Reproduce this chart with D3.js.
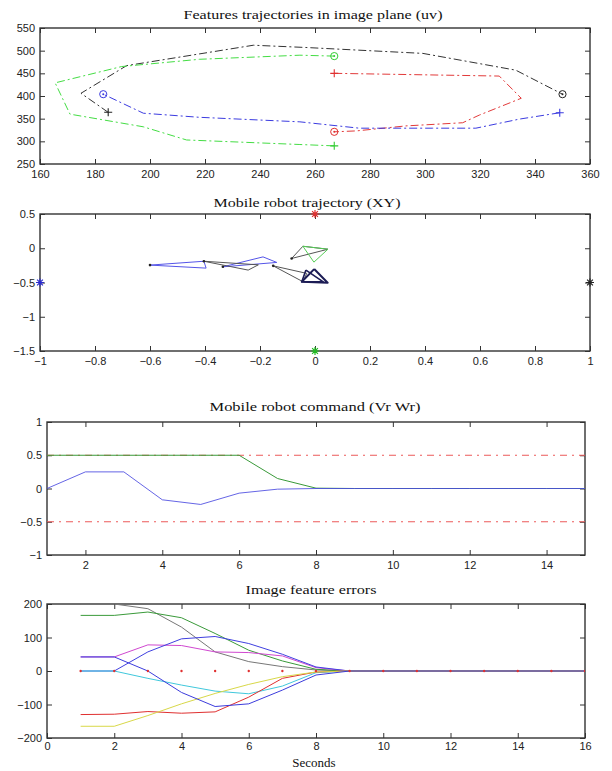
<!DOCTYPE html>
<html><head><meta charset="utf-8">
<script src="https://cdn.jsdelivr.net/npm/d3@7"></script>
<style>
html,body{margin:0;padding:0;background:#fff;}
svg{display:block;}
.tick text{font-family:"Liberation Sans",Arial,sans-serif;font-size:11px;fill:#222;}
.ttl{font-family:"Liberation Serif","DejaVu Serif",serif;font-size:13px;fill:#111;}
</style>
</head><body>
<svg id="c" width="612" height="771"></svg>
<script>
// ---------- Panel 1: Features trajectories in image plane (uv) ----------
const uvBlack = [[184.8,364],[174.9,406],[191.5,467],[237.6,512],[256.7,507],[299.2,494],[333,457],[350,404]];
const uvGreen = [[267,290],[254.5,293],[213.3,303],[197.6,332],[170.9,360],[165.5,429],[189.7,465],[218,481],[254.5,490],[267,488]];
const uvRed   = [[267,450],[327,444],[335,395],[319.8,358],[313.7,341],[293,334],[275,323],[267,321]];
const uvBlue  = [[349,363],[334.3,349],[318.5,329],[302.8,329],[276.1,329],[254.5,343],[218,353],[197.6,362],[183,404]];
const uvPlus   = [{p:[184.8,364],c:"#222"},{p:[267,290],c:"#33cc33"},{p:[267,450],c:"#e03030"},{p:[349,363],c:"#3b3be0"}];
const uvCircle = [{p:[350,404],c:"#222"},{p:[267,488],c:"#33cc33"},{p:[267,321],c:"#e03030"},{p:[183,404],c:"#3b3be0"}];
const uvXTicks = [160,180,200,220,240,260,280,300,320,340,360];
const uvYTicks = [250,300,350,400,450,500,550];

// ---------- Panel 2: Mobile robot trajectory (XY) ----------
const xyBlue1  = [[-0.6,-0.246],[-0.404,-0.19],[-0.396,-0.29],[-0.6,-0.246]];
const xyBlue2  = [[-0.335,-0.271],[-0.189,-0.126],[-0.139,-0.207],[-0.335,-0.271]];
const xyBlack1 = [[-0.404,-0.19],[-0.206,-0.242],[-0.243,-0.319],[-0.404,-0.19]];
const xyBlack2 = [[-0.152,-0.257],[-0.03,-0.367],[-0.044,-0.488],[-0.152,-0.257]];
const xyBlack3 = [[-0.085,-0.149],[-0.044,0.029],[0.047,-0.014],[-0.085,-0.149]];
const xyGreen  = [[-0.044,0.029],[0.047,-0.014],[-0.004,-0.203],[-0.044,0.029]];
const xyNavy1  = [[-0.003,-0.304],[-0.048,-0.49],[0.046,-0.503],[-0.003,-0.304]];
const xyNavy2  = [[-0.033,-0.319],[-0.048,-0.49],[0.03,-0.49],[-0.033,-0.319]];
const xyStars  = [{p:[0,0.5],c:"#e03030"},{p:[0,-1.5],c:"#22bb22"},{p:[-1,-0.5],c:"#2a2ad0"},{p:[1,-0.5],c:"#222"}];
const xyXTicks = [-1,-0.8,-0.6,-0.4,-0.2,0,0.2,0.4,0.6,0.8,1];
const xyYTicks = [-1.5,-1,-0.5,0,0.5];

// ---------- Panel 3: Mobile robot command (Vr Wr) ----------
const cmdTime = [1,2,3,4,5,6,7,8,9,10,11,12,13,14,15];
const cmdVr   = [0.5,0.5,0.5,0.5,0.5,0.5,0.15,0.005,0,0,0,0,0,0,0];
const cmdWr   = [0,0.25,0.25,-0.17,-0.24,-0.07,-0.01,0,0,0,0,0,0,0,0];
const cmdLimits = [0.5,-0.5];
const cmdXTicks = [2,4,6,8,10,12,14];
const cmdYTicks = [-1,-0.5,0,0.5,1];

// ---------- Panel 4: Image feature errors ----------
const errTime    = [1,2,3,4,5,6,7,8,9,10,11,12,13,14,15,16];
const errGray    = [200,200,186,131,57,28,13,3,0,0,0,0,0,0,0,0];
const errGreen   = [166,166,176,159,112,62,30,5,0,0,0,0,0,0,0,0];
const errMagenta = [42,42,78,76,57,55,45,10,0,0,0,0,0,0,0,0];
const errBlueA   = [0,0,57,96,103,82,50,12,0,0,0,0,0,0,0,0];
const errBlueB   = [42,42,0,-64,-106,-98,-57,-12,0,0,0,0,0,0,0,0];
const errCyan    = [0,0,-22,-42,-60,-68,-45,-5,0,0,0,0,0,0,0,0];
const errRed     = [-130,-129,-121,-126,-122,-78,-22,-3,0,0,0,0,0,0,0,0];
const errYellow  = [-165,-165,-133,-98,-67,-40,-17,-3,0,0,0,0,0,0,0,0];
const errZeroRef = [0,0,0,0,0,0,0,0,0,0,0,0,0,0,0,0];
const errXTicks = [0,2,4,6,8,10,12,14,16];
const errYTicks = [-200,-100,0,100,200];

const svg = d3.select("#c");
const fmt = v => (v<0 ? "\u2212" : "") + String(Math.abs(v));

function panel(o){
  const x = d3.scaleLinear().domain(o.xd).range([o.l,o.r]);
  const y = d3.scaleLinear().domain(o.yd).range([o.b,o.t]);
  const g = svg.append("g");
  const clipId = "clip"+Math.random().toString(36).slice(2);
  svg.append("clipPath").attr("id",clipId).append("rect")
    .attr("x",o.l).attr("y",o.t).attr("width",o.r-o.l).attr("height",o.b-o.t);
  const ax = (gen, tr) => g.append("g").attr("transform",tr).call(gen)
      .call(s=>s.select(".domain").remove())
      .call(s=>s.selectAll(".tick line").attr("stroke","#333"));
  ax(d3.axisBottom(x).tickValues(o.xt).tickSize(-5).tickPadding(o.xp||6).tickFormat(fmt), `translate(0,${o.b})`);
  ax(d3.axisTop(x).tickValues(o.xt).tickSize(-5).tickFormat(""), `translate(0,${o.t})`);
  ax(d3.axisLeft(y).tickValues(o.yt).tickSize(-5).tickPadding(5).tickFormat(fmt), `translate(${o.l},0)`);
  ax(d3.axisRight(y).tickValues(o.yt).tickSize(-5).tickFormat(""), `translate(${o.r},0)`);
  g.append("rect").attr("x",o.l).attr("y",o.t).attr("width",o.r-o.l).attr("height",o.b-o.t)
    .attr("fill","none").attr("stroke","#333").attr("stroke-width",1.4);
  svg.append("text").attr("class","ttl").attr("x",o.tx).attr("y",o.ty)
    .attr("text-anchor","middle").attr("textLength",o.tw).attr("lengthAdjust","spacingAndGlyphs").text(o.title);
  const plot = svg.append("g").attr("clip-path",`url(#${clipId})`);
  return {x,y,plot,g};
}

// Panel 1
const p1 = panel({l:40,r:590,t:28,b:164,xd:[160,360],yd:[250,550],xt:uvXTicks,yt:uvYTicks,
  title:"Features trajectories in image plane (uv)",tx:313,ty:19,tw:259});
const line1 = d3.line().x(d=>p1.x(d[0])).y(d=>p1.y(d[1]));
[[uvBlack,"#333"],[uvGreen,"#44dd44"],[uvRed,"#e23a3a"],[uvBlue,"#3b3be0"]].forEach(([d,c])=>{
  p1.plot.append("path").attr("d",line1(d)).attr("fill","none").attr("stroke",c)
    .attr("stroke-width",1).attr("stroke-dasharray","8,3,2,3");
});
uvPlus.forEach(m=>{
  const cx=p1.x(m.p[0]), cy=p1.y(m.p[1]);
  svg.append("path").attr("d",`M${cx-4},${cy}H${cx+4}M${cx},${cy-4}V${cy+4}`).attr("stroke",m.c).attr("stroke-width",1.1);
});
uvCircle.forEach(m=>{
  const cx=p1.x(m.p[0]), cy=p1.y(m.p[1]);
  svg.append("circle").attr("cx",cx).attr("cy",cy).attr("r",3.6).attr("fill","none").attr("stroke",m.c).attr("stroke-width",1);
  svg.append("circle").attr("cx",cx).attr("cy",cy).attr("r",1).attr("fill",m.c);
});

// Panel 2
const p2 = panel({l:40,r:590,t:214,b:351,xd:[-1,1],yd:[-1.5,0.5],xt:xyXTicks,yt:xyYTicks,
  title:"Mobile robot trajectory (XY)",tx:307,ty:207,tw:187});
const line2 = d3.line().x(d=>p2.x(d[0])).y(d=>p2.y(d[1]));
[[xyBlue1,"#5555e8",1],[xyBlue2,"#5555e8",1],[xyBlack1,"#555",1],[xyBlack2,"#555",1],
 [xyBlack3,"#555",1],[xyGreen,"#55cc55",1],[xyNavy1,"#1c1c55",2],[xyNavy2,"#1c1c55",1.6]].forEach(([d,c,w])=>{
  p2.plot.append("path").attr("d",line2(d)).attr("fill","none").attr("stroke",c).attr("stroke-width",w).attr("stroke-linejoin","round");
});
[xyBlue1[0],xyBlue2[0],xyBlack1[0],xyBlack2[0],xyBlack3[0]].forEach(p=>{
  p2.plot.append("circle").attr("cx",p2.x(p[0])).attr("cy",p2.y(p[1])).attr("r",1.3).attr("fill","#222");
});
xyStars.forEach(m=>{
  const cx=p2.x(m.p[0]), cy=p2.y(m.p[1]), s=4, d=2.9;
  svg.append("path").attr("d",`M${cx-s},${cy}H${cx+s}M${cx},${cy-s}V${cy+s}M${cx-d},${cy-d}L${cx+d},${cy+d}M${cx-d},${cy+d}L${cx+d},${cy-d}`)
    .attr("stroke",m.c).attr("stroke-width",1.2);
});

// Panel 3
const p3 = panel({l:47,r:585,t:422,b:555,xd:[1,15],yd:[-1,1],xt:cmdXTicks,yt:cmdYTicks,
  title:"Mobile robot command (Vr Wr)",tx:315,ty:411,tw:211});
cmdLimits.forEach(v=>{
  p3.plot.append("line").attr("x1",p3.x(1)).attr("x2",p3.x(15)).attr("y1",p3.y(v)).attr("y2",p3.y(v))
    .attr("stroke","#ec5a5a").attr("stroke-width",1).attr("stroke-dasharray","7,5,2,5");
});
const line3 = (vals)=>d3.line().x((d,i)=>p3.x(cmdTime[i])).y(d=>p3.y(d))(vals);
p3.plot.append("path").attr("d",line3(cmdVr)).attr("fill","none").attr("stroke","#3a9a3a").attr("stroke-width",1);
p3.plot.append("path").attr("d",line3(cmdWr)).attr("fill","none").attr("stroke","#4a4ae0").attr("stroke-width",1).attr("stroke-opacity",0.85);

// Panel 4
const p4 = panel({l:47,r:585,t:604,b:738,xd:[0,16],yd:[-200,200],xt:errXTicks,yt:errYTicks,xp:4,
  title:"Image feature errors",tx:311,ty:594,tw:131});
const line4 = (vals)=>d3.line().x((d,i)=>p4.x(errTime[i])).y(d=>p4.y(d))(vals);
[[errGray,"#777"],[errGreen,"#3a9a3a"],[errMagenta,"#d048d0"],[errBlueA,"#4040e0"],[errCyan,"#40c8dc"],
 [errRed,"#e03030"],[errYellow,"#d8d848"],[errBlueB,"#3c3cdc"]].forEach(([d,c])=>{
  p4.plot.append("path").attr("d",line4(d)).attr("fill","none").attr("stroke",c).attr("stroke-width",1);
});
errZeroRef.forEach((v,i)=>{
  p4.plot.append("circle").attr("cx",p4.x(errTime[i])).attr("cy",p4.y(v)).attr("r",1.2).attr("fill","#e03030");
});
svg.append("text").attr("class","ttl").attr("x",314).attr("y",767).attr("text-anchor","middle").text("Seconds");
</script>
</body></html>
